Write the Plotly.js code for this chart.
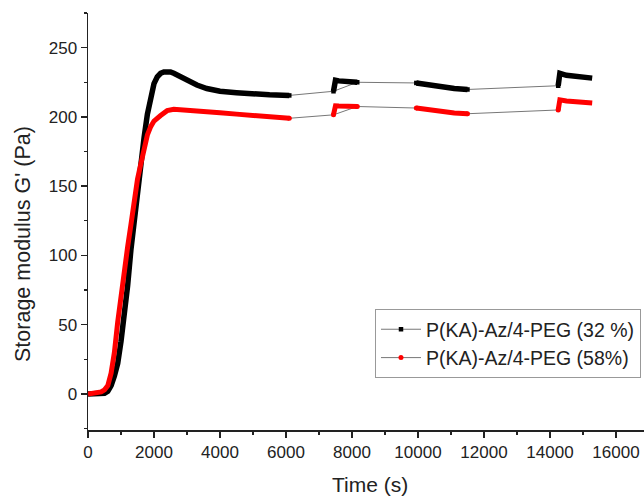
<!DOCTYPE html>
<html>
<head>
<meta charset="utf-8">
<script src="https://cdn.plot.ly/plotly-3.0.1.min.js"></script>
<style>html,body{margin:0;padding:0;background:#fff}#chart{width:644px;height:496px}</style>
</head>
<body>
<div id="chart"></div>
<script>
// Series names
const seriesNames = ["P(KA)-Az/4-PEG (32 %)", "P(KA)-Az/4-PEG (58%)"];

// 32 % sample (black) – measurement segments separated by null
const time32 = [0, 300, 500, 600, 700, 800, 900, 1000, 1100, 1200, 1300, 1400, 1500, 1600, 1700, 1800, 1900, 2000, 2100, 2200, 2300, 2400, 2500, 2600, 2800, 3000, 3300, 3600, 4000, 4500, 5000, 5500, 6100,
  null,
  7440, 7470, 7500, 7600, 7800, 8000, 8160,
  null,
  9950, 10200, 10500, 10800, 11100, 11500,
  null,
  14250, 14270, 14300, 14500, 14800, 15000, 15280];
const g32 = [0, 0, 0.5, 2, 6, 13, 22, 38, 55, 78, 104, 126, 147, 167, 185, 202, 215, 224, 229, 231.5, 232.5, 233, 232.5, 231.5, 229, 226, 223, 220.5, 218.5, 217.5, 216.5, 216, 215.5,
  null,
  218.5, 224, 226.5, 226, 225.8, 225.5, 225,
  null,
  224.5, 223.5, 222.5, 221.5, 220.5, 219.8,
  null,
  222.5, 228, 231.5, 230, 229, 228.5, 228];

// 58 % sample (red)
const time58 = [0, 200, 400, 500, 600, 700, 800, 900, 1000, 1100, 1200, 1300, 1400, 1500, 1600, 1700, 1800, 1900, 2000, 2200, 2400, 2600, 3000, 3500, 4000, 4500, 5000, 5500, 6100,
  null,
  7440, 7470, 7500, 7600, 7800, 8000, 8160,
  null,
  9950, 10200, 10500, 10800, 11100, 11500,
  null,
  14250, 14270, 14300, 14500, 14800, 15000, 15280];
const g58 = [0, 0.5, 1.5, 3, 6, 15, 30, 52, 72, 90, 106, 122, 140, 155, 166, 178, 187, 193, 197, 201, 204.5, 205.5, 205, 204, 203, 202, 201, 200, 199,
  null,
  201.5, 206, 208, 207.8, 207.7, 207.6, 207.5,
  null,
  206.4, 205.5, 204.5, 203.5, 202.8, 202.3,
  null,
  205, 210, 212.3, 211.5, 211, 210.5, 210];

// x / y tick values
const xTicks = [0, 2000, 4000, 6000, 8000, 10000, 12000, 14000, 16000];
const yTicks = [0, 50, 100, 150, 200, 250];

function segmentEnds(xs, ys) {
  // endpoints of each measurement segment, used for the thin connecting lines
  const segs = [];
  let cur = [];
  for (let i = 0; i < xs.length; i++) {
    if (xs[i] === null) { if (cur.length) segs.push(cur); cur = []; }
    else cur.push([xs[i], ys[i]]);
  }
  if (cur.length) segs.push(cur);
  const cx = [], cy = [];
  segs.forEach((s, k) => {
    if (k > 0) { cx.push(s[0][0]); cy.push(s[0][1]); }
    if (k < segs.length - 1) { cx.push(s[s.length - 1][0]); cy.push(s[s.length - 1][1]); }
  });
  return {cx, cy};
}

const c32 = segmentEnds(time32, g32);
const c58 = segmentEnds(time58, g58);

const traces = [
  {x: c32.cx, y: c32.cy, mode: 'lines+markers', name: seriesNames[0],
   line: {color: '#777', width: 1}, marker: {color: '#000', symbol: 'square', size: 4.5}},
  {x: c58.cx, y: c58.cy, mode: 'lines+markers', name: seriesNames[1],
   line: {color: '#777', width: 1}, marker: {color: '#ff0000', symbol: 'circle', size: 5}},
  {x: time32, y: g32, mode: 'lines', showlegend: false, connectgaps: false,
   line: {color: '#000', width: 5.5}},
  {x: time58, y: g58, mode: 'lines', showlegend: false, connectgaps: false,
   line: {color: '#ff0000', width: 5}}
];

const fam = 'Arial, "Liberation Sans", sans-serif';
const txt = '#222';

const layout = {
  width: 644, height: 496,
  margin: {l: 88, r: 0, t: 13, b: 66},
  paper_bgcolor: '#fff', plot_bgcolor: '#fff',
  font: {family: fam, color: txt},
  showlegend: true,
  legend: {x: 0.9946, xanchor: 'right', y: 0.29, yanchor: 'top',
    bordercolor: '#999', borderwidth: 1, bgcolor: '#fff',
    font: {family: fam, size: 19.5, color: txt}, tracegroupgap: 0, itemwidth: 40},
  xaxis: {
    range: [0, 16850], tickvals: xTicks, ticktext: xTicks.map(String),
    showgrid: false, zeroline: false, showline: true, linecolor: '#222', linewidth: 1.5,
    ticks: 'outside', ticklen: 6, tickwidth: 1.5, tickcolor: '#222',
    minor: {dtick: 1000, tick0: 0, ticks: 'outside', ticklen: 3, tickwidth: 1.2, tickcolor: '#222'},
    tickfont: {size: 17, family: fam, color: txt}
  },
  yaxis: {
    range: [-26, 275], tickvals: yTicks, ticktext: yTicks.map(String),
    showgrid: false, zeroline: false, showline: true, linecolor: '#222', linewidth: 1.5,
    ticks: 'outside', ticklen: 6, tickwidth: 1.5, tickcolor: '#222',
    minor: {dtick: 25, tick0: 0, ticks: 'outside', ticklen: 3, tickwidth: 1.2, tickcolor: '#222'},
    tickfont: {size: 17, family: fam, color: txt}
  },
  annotations: [
    {text: "Storage modulus G' (Pa)", xref: 'paper', yref: 'paper',
     x: (23 - 88) / 556, y: (430 - 244) / 417, xanchor: 'center', yanchor: 'middle',
     textangle: -90, showarrow: false, font: {size: 21.5, family: fam, color: txt}},
    {text: 'Time (s)', xref: 'paper', yref: 'paper',
     x: (370 - 88) / 556, y: (430 - 484) / 417, xanchor: 'center', yanchor: 'middle',
     showarrow: false, font: {size: 21, family: fam, color: txt}}
  ]
};

Plotly.newPlot('chart', traces, layout, {displayModeBar: false, staticPlot: true});
</script>
</body>
</html>
